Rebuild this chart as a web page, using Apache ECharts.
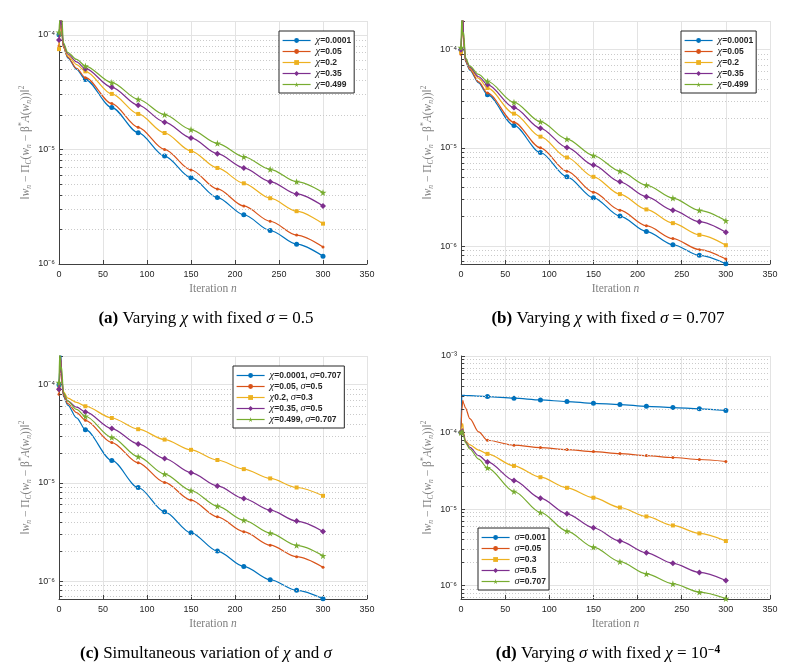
<!DOCTYPE html>
<html>
<head>
<meta charset="utf-8">
<script src="https://cdn.jsdelivr.net/npm/echarts@6/dist/echarts.min.js"></script>
<style>
html, body { margin: 0; padding: 0; background: #fff; }
#main { width: 804px; height: 670px; }
</style>
</head>
<body>
<div id="main"></div>
<script>
// iterations where markers sit, and a few extra early iterations (the start-up spike)
var markIters = [0, 30, 60, 90, 120, 150, 180, 210, 240, 270, 300];
var headIters = [1, 2, 3, 5, 10, 20];

var namesA = ['χ=0.0001', 'χ=0.05', 'χ=0.2', 'χ=0.35', 'χ=0.499'];
var namesB = ['χ=0.0001', 'χ=0.05', 'χ=0.2', 'χ=0.35', 'χ=0.499'];
var namesC = ['χ=0.0001, σ=0.707', 'χ=0.05, σ=0.5', 'χ0.2, σ=0.3', 'χ=0.35, σ=0.5', 'χ=0.499, σ=0.707'];
var namesD = ['σ=0.001', 'σ=0.05', 'σ=0.3', 'σ=0.5', 'σ=0.707'];

// (a) varying chi, sigma = 0.5
var markA = [
    [1.0e-4, 4.07e-5, 2.32e-5, 1.40e-5, 8.75e-6, 5.67e-6, 3.80e-6, 2.69e-6, 1.96e-6, 1.49e-6, 1.17e-6],
    [8.0e-5, 4.23e-5, 2.51e-5, 1.56e-5, 1.0e-5, 6.61e-6, 4.52e-6, 3.21e-6, 2.36e-6, 1.79e-6, 1.41e-6],
    [7.5e-5, 4.80e-5, 3.05e-5, 2.04e-5, 1.39e-5, 9.68e-6, 6.89e-6, 5.06e-6, 3.75e-6, 2.89e-6, 2.25e-6],
    [9.0e-5, 5.06e-5, 3.48e-5, 2.43e-5, 1.73e-5, 1.26e-5, 9.17e-6, 6.89e-6, 5.23e-6, 4.09e-6, 3.21e-6],
    [1.05e-4, 5.34e-5, 3.83e-5, 2.74e-5, 2.01e-5, 1.49e-5, 1.13e-5, 8.63e-6, 6.70e-6, 5.23e-6, 4.20e-6]
];
var headA = [
    [1.2e-4, 1.6e-4, 1.1e-4, 7.8e-5, 6.3e-5, 5.0e-5],
    [1.1e-4, 1.5e-4, 1.05e-4, 7.8e-5, 6.4e-5, 5.1e-5],
    [1.0e-4, 1.5e-4, 1.1e-4, 8.0e-5, 6.6e-5, 5.5e-5],
    [1.1e-4, 1.6e-4, 1.2e-4, 8.2e-5, 6.8e-5, 5.8e-5],
    [1.4e-4, 1.8e-4, 1.5e-4, 8.5e-5, 7.0e-5, 6.1e-5]
];

// (b) varying chi, sigma = 0.707
var markB = [
    [1.0e-4, 3.48e-5, 1.69e-5, 8.97e-6, 5.07e-6, 3.10e-6, 2.02e-6, 1.41e-6, 1.03e-6, 8.04e-7, 6.6e-7],
    [9.0e-5, 3.62e-5, 1.82e-5, 1.0e-5, 5.79e-6, 3.54e-6, 2.32e-6, 1.61e-6, 1.19e-6, 9.19e-7, 7.38e-7],
    [9.5e-5, 4.07e-5, 2.23e-5, 1.30e-5, 7.98e-6, 5.07e-6, 3.38e-6, 2.36e-6, 1.71e-6, 1.30e-6, 1.02e-6],
    [1.0e-4, 4.41e-5, 2.57e-5, 1.58e-5, 1.01e-5, 6.67e-6, 4.51e-6, 3.18e-6, 2.32e-6, 1.77e-6, 1.38e-6],
    [1.05e-4, 4.77e-5, 2.91e-5, 1.85e-5, 1.23e-5, 8.36e-6, 5.79e-6, 4.17e-6, 3.08e-6, 2.31e-6, 1.81e-6]
];
var headB = [
    [1.5e-4, 2.2e-4, 1.2e-4, 7.6e-5, 6.2e-5, 4.6e-5],
    [1.4e-4, 2.1e-4, 1.2e-4, 7.7e-5, 6.3e-5, 4.7e-5],
    [1.5e-4, 2.2e-4, 1.3e-4, 7.9e-5, 6.5e-5, 5.1e-5],
    [1.6e-4, 2.3e-4, 1.35e-4, 8.0e-5, 6.6e-5, 5.3e-5],
    [2.3e-4, 1.4e-4, 1.5e-4, 8.3e-5, 6.8e-5, 5.6e-5]
];

// (c) chi and sigma varied together
var markC = [
    [1.0e-4, 3.48e-5, 1.69e-5, 8.97e-6, 5.07e-6, 3.10e-6, 2.02e-6, 1.41e-6, 1.03e-6, 8.04e-7, 6.6e-7],
    [8.0e-5, 4.34e-5, 2.57e-5, 1.60e-5, 1.01e-5, 6.67e-6, 4.51e-6, 3.18e-6, 2.32e-6, 1.77e-6, 1.38e-6],
    [9.0e-5, 6.03e-5, 4.58e-5, 3.52e-5, 2.76e-5, 2.17e-5, 1.71e-5, 1.38e-5, 1.11e-5, 8.97e-6, 7.38e-6],
    [9.0e-5, 5.28e-5, 3.57e-5, 2.49e-5, 1.77e-5, 1.27e-5, 9.31e-6, 6.93e-6, 5.27e-6, 4.08e-6, 3.20e-6],
    [1.05e-4, 4.77e-5, 2.91e-5, 1.85e-5, 1.23e-5, 8.36e-6, 5.79e-6, 4.17e-6, 3.08e-6, 2.31e-6, 1.81e-6]
];
var headC = [
    [1.5e-4, 2.2e-4, 1.2e-4, 7.6e-5, 6.2e-5, 4.6e-5],
    [1.3e-4, 1.9e-4, 1.1e-4, 7.8e-5, 6.4e-5, 5.2e-5],
    [1.3e-4, 1.7e-4, 1.2e-4, 8.5e-5, 7.3e-5, 6.6e-5],
    [1.3e-4, 1.8e-4, 1.2e-4, 8.2e-5, 6.8e-5, 5.9e-5],
    [2.3e-4, 1.4e-4, 1.5e-4, 8.3e-5, 6.8e-5, 5.6e-5]
];

// (d) varying sigma, chi = 1e-4
var markD = [
    [1.0e-4, 2.95e-4, 2.81e-4, 2.67e-4, 2.54e-4, 2.41e-4, 2.32e-4, 2.20e-4, 2.12e-4, 2.04e-4, 1.94e-4],
    [1.0e-4, 7.94e-5, 6.84e-5, 6.37e-5, 6.0e-5, 5.65e-5, 5.32e-5, 5.01e-5, 4.72e-5, 4.45e-5, 4.19e-5],
    [1.0e-4, 5.27e-5, 3.67e-5, 2.61e-5, 1.90e-5, 1.41e-5, 1.05e-5, 8.02e-6, 6.12e-6, 4.82e-6, 3.83e-6],
    [1.0e-4, 4.14e-5, 2.37e-5, 1.39e-5, 8.69e-6, 5.71e-6, 3.83e-6, 2.69e-6, 1.96e-6, 1.49e-6, 1.17e-6],
    [1.0e-4, 3.46e-5, 1.70e-5, 9.05e-6, 5.16e-6, 3.19e-6, 2.06e-6, 1.43e-6, 1.06e-6, 8.26e-7, 6.8e-7]
];
var headD = [
    [3.07e-4, 3.06e-4, 3.06e-4, 3.05e-4, 3.03e-4, 2.99e-4],
    [2.0e-4, 2.64e-4, 2.4e-4, 2.1e-4, 1.52e-4, 1.02e-4],
    [1.2e-4, 1.31e-4, 1.0e-4, 7.8e-5, 6.9e-5, 5.9e-5],
    [1.1e-4, 1.12e-4, 9.5e-5, 7.6e-5, 6.4e-5, 5.0e-5],
    [1.05e-4, 1.08e-4, 9.0e-5, 7.4e-5, 6.1e-5, 4.5e-5]
];

var xTicks = [0, 350, 50];

var colors = ['#0072BD', '#D95319', '#EDB120', '#7E2F8E', '#77AC30'];
var starPath = 'path://M50,0 L61,35 L98,35 L68,57 L79,91 L50,70 L21,91 L32,57 L2,35 L39,35 Z';
var symbols = ['circle', 'circle', 'rect', 'diamond', starPath];
var symSizes = [5, 3, 4, 6, 7];

var panels = [
    { id: 'a', grid: { left: 59, top: 21, width: 308, height: 243 }, min: 1e-6, max: 1.32e-4,
      names: namesA, marks: markA, heads: headA, legend: { left: 279, top: 31 }, cap: [206, 319] },
    { id: 'b', grid: { left: 461, top: 21, width: 309, height: 243 }, min: 6.56e-7, max: 1.96e-4,
      names: namesB, marks: markB, heads: headB, legend: { left: 681, top: 31 }, cap: [608, 319] },
    { id: 'c', grid: { left: 59, top: 356, width: 308, height: 243 }, min: 6.56e-7, max: 1.96e-4,
      names: namesC, marks: markC, heads: headC, legend: { left: 233, top: 366 }, cap: [206, 654] },
    { id: 'd', grid: { left: 461, top: 356, width: 309, height: 243 }, min: 6.7e-7, max: 1e-3,
      names: namesD, marks: markD, heads: headD, legend: { left: 478, top: 528 }, cap: [608, 654] }
];

var captions = [
    '{b|(a)}{r| Varying }{i|χ}{r| with fixed }{i|σ}{r| = 0.5}',
    '{b|(b)}{r| Varying }{i|χ}{r| with fixed }{i|σ}{r| = 0.707}',
    '{b|(c)}{r| Simultaneous variation of }{i|χ}{r| and }{i|σ}',
    '{b|(d)}{r| Varying }{i|σ}{r| with fixed }{i|χ}{r| = 10}{p|−4}'
];

var supMap = { '-': '⁻', '0': '⁰', '1': '¹', '2': '²', '3': '³', '4': '⁴', '5': '⁵', '6': '⁶', '7': '⁷', '8': '⁸', '9': '⁹' };
function powLabel(v) {
    var e = Math.log(v) / Math.LN10;
    var r = Math.round(e);
    if (Math.abs(e - r) > 1e-6) return '';
    return '10' + String(r).split('').map(function (c) { return supMap[c]; }).join('');
}

function legendText(name) {
    var s = name.slice(2);
    return s.replace(/([χσ])|([^χσ]+)/g, function (m, g, t) {
        return g ? '{g|' + g + '}' : '{t|' + t + '}';
    });
}

function minorMarks(min, max) {
    var out = [];
    var k0 = Math.floor(Math.log(min) / Math.LN10), k1 = Math.ceil(Math.log(max) / Math.LN10);
    for (var k = k0; k <= k1; k++) {
        for (var m = 2; m <= 9; m++) {
            var v = m * Math.pow(10, k);
            if (v <= min || v >= max) continue;
            out.push([{ coord: [0, v], lineStyle: { type: [1, 2], color: '#cacaca', width: 1 } }, { coord: [350, v] }]);
            out.push([{ coord: [0, v], lineStyle: { type: 'solid', color: '#404040', width: 1 } }, { coord: [3.5, v] }]);
        }
    }
    return out;
}

var nameRich = {
    r: { fontFamily: 'Liberation Serif', fontSize: 11.5, color: '#808080', lineHeight: 15 },
    i: { fontFamily: 'Liberation Serif', fontStyle: 'italic', fontSize: 11.5, color: '#808080', lineHeight: 15 },
    s: { fontFamily: 'Liberation Serif', fontStyle: 'italic', fontSize: 7.5, color: '#808080', lineHeight: 8, verticalAlign: 'bottom' },
    p: { fontFamily: 'Liberation Serif', fontSize: 7.5, color: '#808080', lineHeight: 8, verticalAlign: 'top' }
};
var yName = '{r|‖}{i|w}{s|n}{r| − Π}{s|C}{r|(}{i|w}{s|n}{r| − β}{p|*}{i|A}{r|(}{i|w}{s|n}{r|))‖}{p|2}';

var option = {
    animation: false,
    backgroundColor: '#fff',
    grid: [], xAxis: [], yAxis: [], series: [], legend: [], graphic: []
};

panels.forEach(function (p, i) {
    option.grid.push(p.grid);
    option.xAxis.push({
        gridIndex: i, type: 'value', min: xTicks[0], max: xTicks[1], interval: xTicks[2],
        axisLine: { show: true, onZero: false, lineStyle: { color: '#404040', width: 1 } },
        axisTick: { show: true, inside: true, length: 4, lineStyle: { color: '#404040' } },
        axisLabel: { fontFamily: 'Liberation Sans', fontSize: 9, color: '#262626', margin: 6 },
        splitLine: { show: true, lineStyle: { color: '#e3e3e3', width: 1 } },
        name: '{r|Iteration }{i|n}', nameLocation: 'middle', nameGap: 17,
        nameTextStyle: { rich: nameRich }
    });
    option.yAxis.push({
        gridIndex: i, type: 'log', logBase: 10, min: p.min, max: p.max,
        axisLine: { show: true, onZero: false, lineStyle: { color: '#404040', width: 1 } },
        axisTick: { show: true, inside: true, length: 4, lineStyle: { color: '#404040' } },
        axisLabel: { fontFamily: 'Liberation Sans', fontSize: 9, color: '#262626', margin: 4, formatter: powLabel,
                     showMinLabel: true, showMaxLabel: true },
        splitLine: { show: true, lineStyle: { color: '#e3e3e3', width: 1 } },
        name: yName, nameLocation: 'middle', nameGap: 26,
        nameTextStyle: { rich: nameRich }
    });
    // grid helper: minor dotted lines and minor ticks, carried by a hidden series
    option.series.push({
        type: 'line', name: 'minor-' + p.id, xAxisIndex: i, yAxisIndex: i,
        data: [[-50, p.min]], symbol: 'none', lineStyle: { opacity: 0 }, z: 1, silent: true,
        markLine: { silent: true, symbol: ['none', 'none'], label: { show: false }, animation: false,
                    data: minorMarks(p.min, p.max) }
    });
    var legendData = [];
    p.names.forEach(function (nm, j) {
        var pts = [];
        pts.push([markIters[0], p.marks[j][0]]);
        headIters.forEach(function (x, h) {
            pts.push({ value: [x, p.heads[j][h]], symbol: 'none' });
        });
        for (var m = 1; m < markIters.length; m++) pts.push([markIters[m], p.marks[j][m]]);
        var sname = p.id + ':' + nm;
        legendData.push(sname);
        option.series.push({
            type: 'line', name: sname, xAxisIndex: i, yAxisIndex: i, data: pts,
            smooth: 0.3, smoothMonotone: 'x', clip: true,
            symbol: symbols[j], symbolSize: symSizes[j], showSymbol: true,
            lineStyle: { width: 1.2, color: colors[j], type: 'solid' },
            itemStyle: { color: colors[j] },
            z: 3 + j
        });
    });
    option.legend.push({
        data: legendData, orient: 'vertical', left: p.legend.left, top: p.legend.top, z: 20,
        padding: [4, 3, 3, 3], itemWidth: 28, itemHeight: 6, itemGap: 0,
        backgroundColor: '#fff', borderColor: '#262626', borderWidth: 1, borderRadius: 0,
        lineStyle: { type: 'solid', width: 1.2 },
        selectedMode: false, formatter: legendText,
        textStyle: {
            rich: {
                g: { fontFamily: 'Liberation Serif', fontStyle: 'italic', fontSize: 10.5, color: '#262626', lineHeight: 8 },
                t: { fontFamily: 'Liberation Sans', fontWeight: 'bold', fontSize: 8.5, color: '#262626', lineHeight: 8 }
            }
        }
    });
    option.graphic.push({
        type: 'text', x: p.cap[0], y: p.cap[1],
        style: {
            text: captions[i], align: 'center', verticalAlign: 'middle',
            rich: {
                b: { fontFamily: 'Liberation Serif', fontWeight: 'bold', fontSize: 17, fill: '#000', lineHeight: 20 },
                r: { fontFamily: 'Liberation Serif', fontSize: 17, fill: '#000', lineHeight: 20 },
                i: { fontFamily: 'Liberation Serif', fontStyle: 'italic', fontSize: 17, fill: '#000', lineHeight: 20 },
                p: { fontFamily: 'Liberation Serif', fontWeight: 'bold', fontSize: 11.5, fill: '#000', lineHeight: 11, verticalAlign: 'top' }
            }
        }
    });
});

var myChart = echarts.init(document.getElementById('main'));
myChart.setOption(option);
</script>
</body>
</html>
